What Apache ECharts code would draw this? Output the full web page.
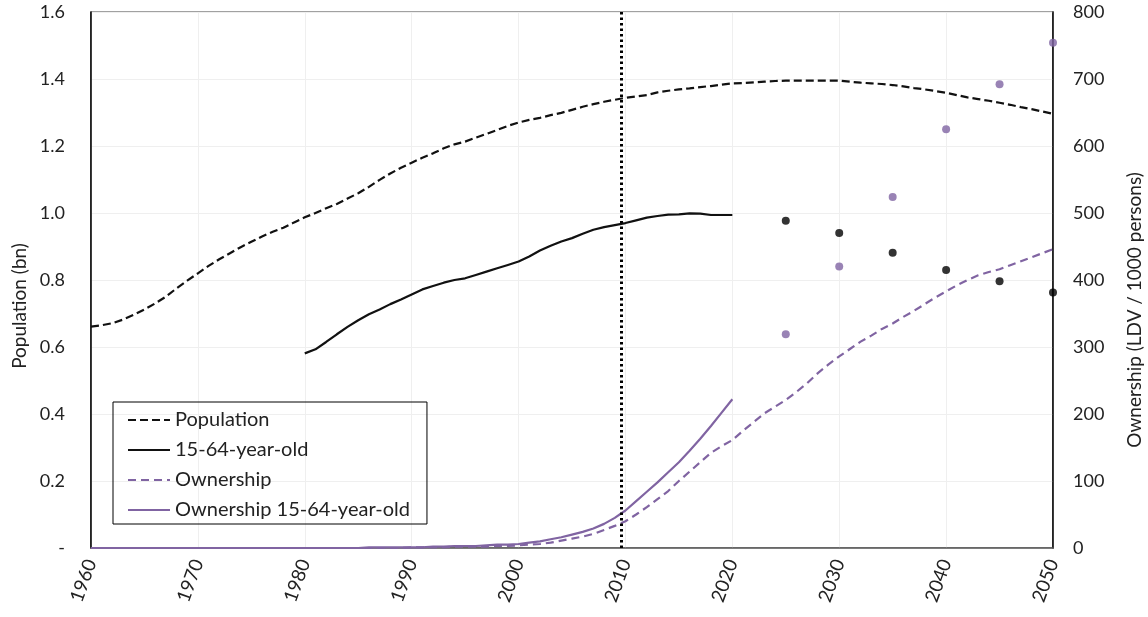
<!DOCTYPE html>
<html>
<head>
<meta charset="utf-8">
<script src="https://cdn.jsdelivr.net/npm/echarts@6/dist/echarts.min.js"></script>
<style>
html,body{margin:0;padding:0;background:#fff;}
#chart{width:1148px;height:617px;}
</style>
</head>
<body>
<div id="chart"></div>
<script>
// ---- Data ----
const xTicks = [1960, 1970, 1980, 1990, 2000, 2010, 2020, 2030, 2040, 2050];
const leftTicks = ['-', '0.2', '0.4', '0.6', '0.8', '1.0', '1.2', '1.4', '1.6'];
const rightTicks = [0, 100, 200, 300, 400, 500, 600, 700, 800];

const popYears = [];
for (let y = 1960; y <= 2050; y++) popYears.push(y);
const population = [
  0.661, 0.665, 0.671, 0.682, 0.696, 0.712, 0.730, 0.750, 0.775, 0.798,
  0.820, 0.842, 0.862, 0.880, 0.898, 0.914, 0.930, 0.944, 0.956, 0.972,
  0.987, 1.000, 1.014, 1.027, 1.043, 1.059, 1.078, 1.099, 1.118, 1.135,
  1.150, 1.165, 1.178, 1.193, 1.205, 1.213, 1.225, 1.236, 1.248, 1.260,
  1.270, 1.278, 1.284, 1.292, 1.299, 1.308, 1.317, 1.325, 1.332, 1.338,
  1.344, 1.348, 1.352, 1.360, 1.365, 1.369, 1.372, 1.376, 1.379, 1.383,
  1.387, 1.388, 1.390, 1.392, 1.394, 1.395, 1.395, 1.395, 1.395, 1.395,
  1.395, 1.392, 1.389, 1.387, 1.385, 1.382, 1.378, 1.373, 1.369, 1.364,
  1.359, 1.352, 1.345, 1.340, 1.335, 1.329, 1.323, 1.316, 1.310, 1.303,
  1.296
];

const workYears = [];
for (let y = 1980; y <= 2020; y++) workYears.push(y);
const working = [
  0.581, 0.593, 0.615, 0.638, 0.660, 0.680, 0.698, 0.712, 0.728, 0.742,
  0.757, 0.772, 0.782, 0.792, 0.800, 0.805, 0.815, 0.825, 0.835, 0.845,
  0.855, 0.870, 0.888, 0.902, 0.915, 0.925, 0.938, 0.950, 0.958, 0.964,
  0.970, 0.978, 0.986, 0.991, 0.995, 0.996, 0.999, 0.998, 0.994, 0.994,
  0.994
];

const ownership = [
  0, 0, 0, 0, 0, 0, 0, 0, 0, 0,
  0, 0, 0, 0, 0, 0, 0, 0, 0, 0,
  0, 0, 0, 0, 0, 0, 0, 0, 0, 0,
  1, 1, 1, 1, 2, 2, 2, 2, 3, 3,
  4, 5, 6, 8, 11, 14, 17, 21, 27, 33,
  40, 50, 61, 73, 85, 100, 114, 128, 142, 152,
  161, 175, 188, 201, 211, 221, 233, 246, 261, 274,
  286, 297, 308, 317, 327, 335, 345, 354, 364, 374,
  383, 392, 400, 407, 412, 416, 422, 428, 434, 440,
  446
];

const own1564Years = [];
for (let y = 1960; y <= 2020; y++) own1564Years.push(y);
const own1564 = [
  0, 0, 0, 0, 0, 0, 0, 0, 0, 0,
  0, 0, 0, 0, 0, 0, 0, 0, 0, 0,
  0, 0, 0, 0, 0, 0, 1, 1, 1, 1,
  1, 1, 2, 2, 3, 3, 3, 4, 5, 5,
  6, 8, 10, 13, 16, 20, 24, 29, 36, 45,
  56, 70, 84, 98, 113, 128, 145, 163, 182, 202,
  222
];

const projYears = [2025, 2030, 2035, 2040, 2045, 2050];
const projWorking = [0.977, 0.940, 0.881, 0.830, 0.796, 0.763];
const projOwn1564 = [319, 420, 524, 625, 692, 754];

const cutoffYear = 2009.6;

// ---- Chart ----
const FONT = 'Lato, "Open Sans", sans-serif';
const purple = '#8064a2';
const pair = (xs, ys) => xs.map((x, i) => [x, ys[i]]);

const chart = echarts.init(document.getElementById('chart'));
chart.setOption({
  animation: false,
  textStyle: { fontFamily: FONT },
  grid: { left: 91, right: 95, top: 12, bottom: 69, show: true, borderColor: '#444', borderWidth: 1.2 },
  legend: {
    data: ['Population', '15-64-year-old', 'Ownership', 'Ownership 15-64-year-old'],
    orient: 'vertical',
    left: 113, top: 402,
    padding: [8, 17, 4, 14],
    itemGap: 10,
    itemWidth: 42, itemHeight: 14,
    borderColor: '#000', borderWidth: 1,
    itemStyle: { opacity: 0 },
    textStyle: { fontSize: 20, color: '#222', fontFamily: FONT, padding: [0, 0, 0, 0] }
  },
  xAxis: {
    type: 'value', min: xTicks[0], max: xTicks[xTicks.length - 1], interval: 10,
    axisLine: { show: true, lineStyle: { color: '#555', width: 1.5 } },
    axisTick: { show: false },
    splitLine: { show: true, lineStyle: { color: '#efefef', width: 1 } },
    axisLabel: {
      rotate: 70, fontSize: 19, color: '#222', margin: 12,
      formatter: v => String(v)
    }
  },
  yAxis: [
    {
      type: 'value', min: 0, max: 1.6, interval: 0.2, position: 'left',
      axisLine: { show: true, lineStyle: { color: '#000', width: 1.5 } },
      axisTick: { show: false },
      splitLine: { show: true, lineStyle: { color: '#efefef', width: 1 } },
      axisLabel: {
        fontSize: 18, color: '#222', margin: 26,
        formatter: v => leftTicks[Math.round(v / 0.2)]
      }
    },
    {
      type: 'value', min: 0, max: 800, interval: 100, position: 'right',
      axisLine: { show: true, lineStyle: { color: '#000', width: 1.5 } },
      axisTick: { show: false },
      splitLine: { show: false },
      axisLabel: {
        fontSize: 18, color: '#222', margin: 20,
        formatter: v => String(rightTicks[Math.round(v / 100)])
      }
    }
  ],
  graphic: [
    { type: 'text', x: 20, y: 306, rotation: Math.PI / 2,
      style: { text: 'Population (bn)', font: '19px ' + FONT, fill: '#222', align: 'center', verticalAlign: 'middle' } },
    { type: 'text', x: 1135, y: 310, rotation: Math.PI / 2,
      style: { text: 'Ownership (LDV / 1000 persons)', font: '19px ' + FONT, fill: '#222', align: 'center', verticalAlign: 'middle' } }
  ],
  series: [
    {
      name: 'Population', type: 'line', yAxisIndex: 0, symbol: 'none',
      data: pair(popYears, population),
      lineStyle: { color: '#111', width: 2.2, type: [8, 4] }, itemStyle: { color: '#111' },
      markLine: {
        silent: true, symbol: 'none', label: { show: false },
        lineStyle: { color: '#000', width: 3, type: [2.5, 3] },
        data: [{ xAxis: cutoffYear }]
      }
    },
    {
      name: '15-64-year-old', type: 'line', yAxisIndex: 0, symbol: 'none',
      data: pair(workYears, working),
      lineStyle: { color: '#111', width: 2.2, type: 'solid' }, itemStyle: { color: '#111' }
    },
    {
      name: 'Ownership', type: 'line', yAxisIndex: 1, symbol: 'none',
      data: pair(popYears, ownership),
      lineStyle: { color: purple, width: 2.2, type: [8, 5] }, itemStyle: { color: purple }
    },
    {
      name: 'Ownership 15-64-year-old', type: 'line', yAxisIndex: 1, symbol: 'none',
      data: pair(own1564Years, own1564),
      lineStyle: { color: purple, width: 2.2, type: 'solid' }, itemStyle: { color: purple }
    },
    {
      name: 'Working projection', type: 'scatter', yAxisIndex: 0, clip: false,
      symbolSize: 8, data: pair(projYears, projWorking), itemStyle: { color: '#000' }
    },
    {
      name: 'Ownership 15-64 projection', type: 'scatter', yAxisIndex: 1, clip: false,
      symbolSize: 8, data: pair(projYears, projOwn1564), itemStyle: { color: purple }
    }
  ]
});
</script>
</body>
</html>
